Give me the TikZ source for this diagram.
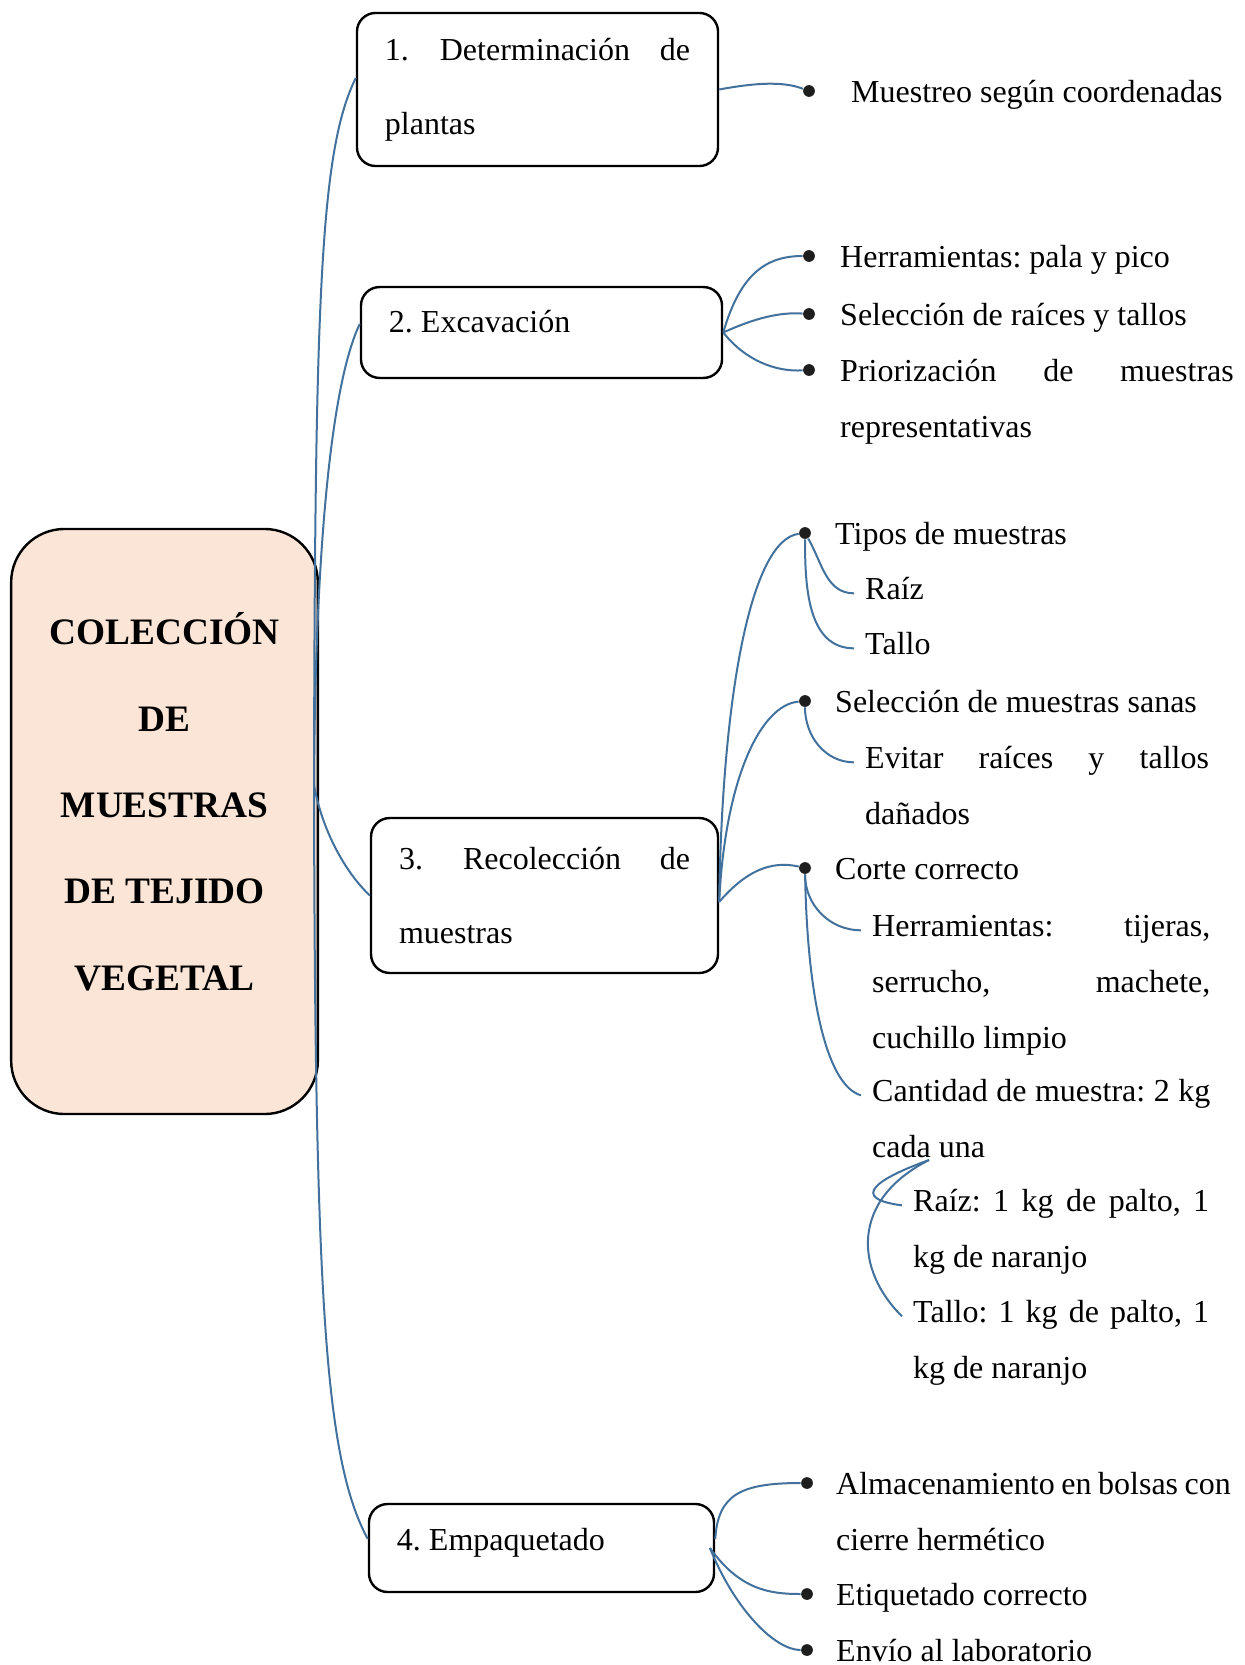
\documentclass[tikz,border=0pt]{standalone}
\usepackage{fontspec}
\setmainfont{Liberation Serif}
\usepackage{tikz}
\usetikzlibrary{positioning}
\definecolor{MapBlue}{HTML}{41719C}
\definecolor{MapPeach}{HTML}{FBE5D6}
\definecolor{MapInk}{HTML}{1E1E1E}
\frenchspacing
\tikzset{
  branch/.style={line width=0.75pt,draw=MapBlue},
  rootbox/.style={draw=black,fill=MapPeach,line width=0.9pt,rounded corners=20pt,
    align=center,minimum width=115pt,minimum height=219.4pt,inner sep=0pt,
    text depth=15pt,font=\fontsize{14}{32.4}\selectfont\bfseries},
  stagebox/.style={draw=black,line width=0.9pt,rounded corners=7pt,
    align=justify,inner xsep=10.5pt,inner ysep=0pt,
    font=\fontsize{12}{27.7}\selectfont},
  dotmark/.style={circle,fill=MapInk,inner sep=0pt,minimum size=4.4pt},
  leaf/.style={anchor=mid west,inner xsep=4pt,yshift=-2pt,font=\fontsize{12}{21}\selectfont},
  longleaf/.style={leaf,align=justify,text width=#1}
}
\begin{document}
\begin{tikzpicture}[x=0.375pt,y=-0.375pt]
  \useasboundingbox (0,0) rectangle (1244,1665);
  \node[rootbox] (root) at (164.5,821.5) {COLECCIÓN\\DE\\MUESTRAS\\DE TEJIDO\\VEGETAL};
  \coordinate (hub) at (314,785);

  \node[stagebox,text width=114.4pt,minimum height=57.4pt] (box1) at (537.5,89.5)
    {1.\hspace{11.6pt}Determinación\hfill de\linebreak plantas};
  \node[stagebox,text width=114.4pt,minimum height=34.1pt,text depth=8.2pt] (box2) at (541.5,332.5)
    {2. Excavación};
  \node[stagebox,text width=109.1pt,minimum height=58.1pt] (box3) at (544.5,895.5)
    {3.\hspace{15pt}Recolección\hfill de\linebreak muestras};
  \node[stagebox,text width=108.4pt,minimum height=33pt,text depth=6.2pt] (box4) at (541.5,1548)
    {4. Empaquetado};

  \node[dotmark] (b11) at (809,91) {};
  \node[leaf] (t11) at (840,91) {Muestreo según coordenadas};

  \node[dotmark] (b21) at (809,256) {};
  \node[dotmark] (b22) at (809,314) {};
  \node[dotmark] (b23) at (809,370) {};
  \node[leaf] (t21) at (829,256) {Herramientas: pala y pico};
  \node[leaf] (t22) at (829,314) {Selección de raíces y tallos};
  \node[longleaf=147.6pt] (t23) at (829,370) {Priorización de muestras\linebreak representativas};

  \node[dotmark] (b31) at (805,533) {};
  \node[dotmark] (b32) at (805,701) {};
  \node[dotmark] (b33) at (805,868) {};
  \node[leaf] (t31) at (824,533) {Tipos de muestras};
  \node[leaf] (t311) at (854,588) {Raíz};
  \node[leaf] (t312) at (854,643) {Tallo};
  \node[leaf] (t32) at (824,701) {Selección de muestras sanas};
  \node[longleaf=128.9pt] (t321) at (854,757) {Evitar raíces y tallos\linebreak dañados};
  \node[leaf] (t33) at (824,868) {Corte correcto};
  \node[longleaf=126.8pt] (t331) at (861,925) {Herramientas: tijeras,\linebreak serrucho, machete,\linebreak cuchillo limpio};
  \node[longleaf=126.8pt] (t332) at (861,1090) {Cantidad de muestra: 2 kg\linebreak cada una};
  \coordinate (ku) at (929,1160);
  \node[longleaf=111pt] (t3321) at (902,1200) {Raíz: 1 kg de palto, 1\linebreak kg de naranjo};
  \node[longleaf=111pt] (t3322) at (902,1311) {Tallo: 1 kg de palto, 1\linebreak kg de naranjo};

  \node[dotmark] (b41) at (807,1483) {};
  \node[dotmark] (b42) at (807,1594) {};
  \node[dotmark] (b43) at (807,1650) {};
  \node[longleaf=148pt] (t41) at (825,1483) {Almacenamiento en bolsas con\linebreak cierre hermético};
  \node[leaf] (t42) at (825,1594) {Etiquetado correcto};
  \node[leaf] (t43) at (825,1650) {Envío al laboratorio};

  \draw[branch] (hub) .. controls (315,300) and (320,150) .. ([yshift=4.3pt]box1.west);
  \draw[branch] (hub) .. controls (315,580) and (328,390) .. ([yshift=3.2pt]box2.west);
  \draw[branch] (hub) .. controls (322,830) and (345,872) .. (box3.west);
  \draw[branch] (hub) .. controls (315,1300) and (325,1460) .. ([yshift=3.4pt]box4.west);

  \draw[branch] (box1.east) .. controls (770,80) and (790,84) .. (b11);

  \draw[branch] (box2.east) .. controls (740,275) and (765,256) .. (b21);
  \draw[branch] (box2.east) .. controls (755,318) and (780,312) .. (b22);
  \draw[branch] (box2.east) .. controls (745,360) and (775,372) .. (b23);

  \draw[branch] ([yshift=-2.4pt]box3.east) .. controls (722,700) and (750,540) .. (b31);
  \draw[branch] ([yshift=-2.4pt]box3.east) .. controls (725,780) and (760,705) .. (b32);
  \draw[branch] ([yshift=-2.4pt]box3.east) .. controls (745,872) and (770,860) .. (b33);
  \draw[branch] (b31) to[out=-60,in=180] (t311.mid west);
  \draw[branch] (b31) to[out=-90,in=180] (t312.mid west);
  \draw[branch] (b32) to[out=-90,in=180] (t321.mid west);
  \draw[branch] (b33) to[out=-90,in=180] (t331.mid west);
  \draw[branch] (b33) .. controls (807,990) and (825,1085) .. (t332.mid west);
  \draw[branch] (ku) .. controls (860,1185) and (860,1200) .. (t3321.mid west);
  \draw[branch] (ku) .. controls (850,1200) and (855,1270) .. (t3322.mid west);

  \draw[branch] ([yshift=3.4pt]box4.east) .. controls (718,1495) and (740,1483) .. (b41);
  \draw[branch] ([xshift=-2pt]box4.east) .. controls (740,1590) and (770,1594) .. (b42);
  \draw[branch] ([xshift=-2pt]box4.east) .. controls (735,1610) and (775,1650) .. (b43);
\end{tikzpicture}
\end{document}
